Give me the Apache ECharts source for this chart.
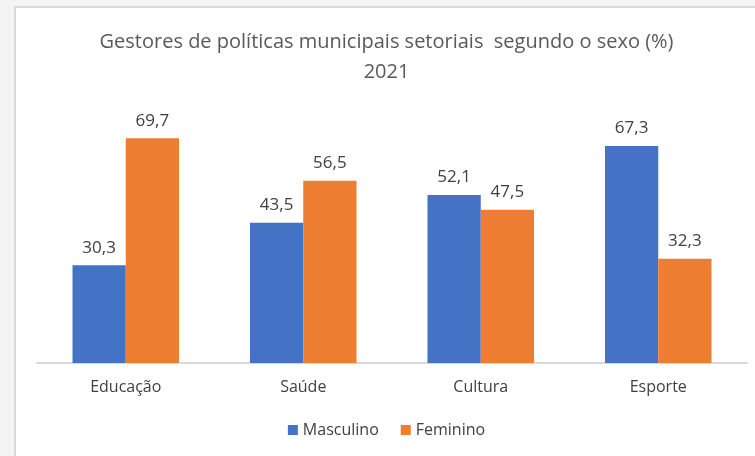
<!DOCTYPE html>
<html>
<head>
<meta charset="utf-8">
<script src="https://cdn.jsdelivr.net/npm/echarts@6/dist/echarts.min.js"></script>
<style>
  html, body { margin: 0; padding: 0; background: #f4f4f4; overflow: hidden; }
  #main {
    position: absolute; left: 14px; top: 6px;
    width: 741px; height: 450px;
    background: #fff;
    border-left: 2px solid #d9d9d9; border-top: 2px solid #d9d9d9;
  }
</style>
</head>
<body>
<div id="main"></div>
<script>
var categorias = ['Educação', 'Saúde', 'Cultura', 'Esporte'];
var masculino = [30.3, 43.5, 52.1, 67.3];
var feminino = [69.7, 56.5, 47.5, 32.3];

var myChart = echarts.init(document.getElementById('main'));

var rotulo = {
    show: true,
    position: 'top',
    distance: 9,
    color: '#404040',
    fontSize: 17,
    fontFamily: 'Open Sans',
    formatter: function (p) { return p.value.toFixed(1).replace('.', ','); }
};

option = {
    title: {
        text: 'Gestores de políticas municipais setoriais  segundo o sexo (%)\n2021',
        left: 'center',
        top: 14,
        textStyle: {
            color: '#595959',
            fontSize: 20,
            fontWeight: 'normal',
            fontFamily: 'Open Sans',
            lineHeight: 30
        }
    },
    legend: {
        bottom: 15,
        left: 'center',
        itemWidth: 10,
        itemHeight: 10,
        itemGap: 22,
        icon: 'rect',
        textStyle: { color: '#404040', fontSize: 16, fontFamily: 'Open Sans' }
    },
    grid: { left: 21, right: 10, top: 97, bottom: 95 },
    xAxis: {
        type: 'category',
        data: categorias,
        axisLine: { lineStyle: { color: '#d9d9d9', width: 2 } },
        axisTick: { show: false },
        axisLabel: { color: '#404040', fontSize: 16, fontFamily: 'Open Sans', margin: 16 }
    },
    yAxis: {
        type: 'value',
        min: 0,
        max: 80,
        show: false
    },
    series: [
        {
            name: 'Masculino',
            type: 'bar',
            data: masculino,
            itemStyle: { color: '#4472c4' },
            barGap: '0%',
            barCategoryGap: '40%',
            label: rotulo
        },
        {
            name: 'Feminino',
            type: 'bar',
            data: feminino,
            itemStyle: { color: '#ed7d31' },
            label: rotulo
        }
    ]
};

myChart.setOption(option);
</script>
</body>
</html>
